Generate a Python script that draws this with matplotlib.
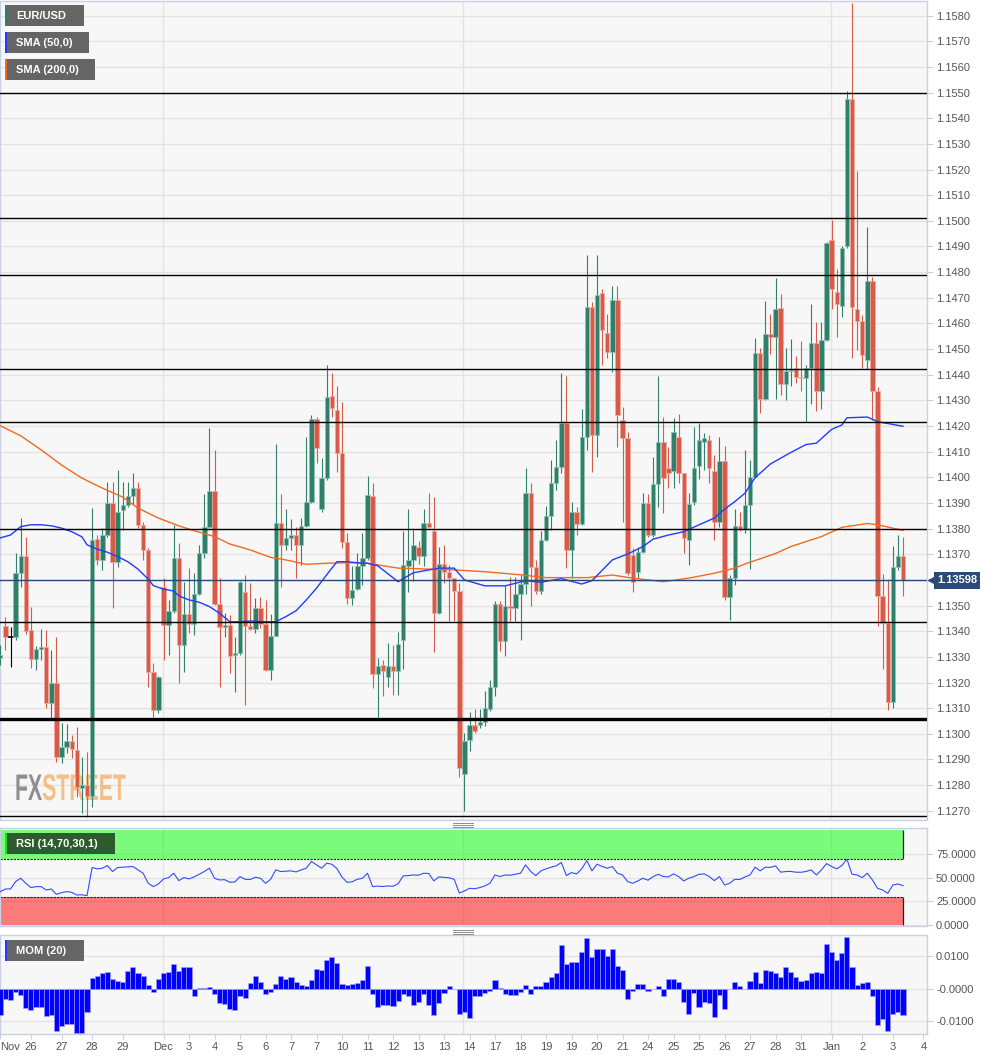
import numpy as np
import matplotlib
matplotlib.use("Agg")
import matplotlib.pyplot as plt
import matplotlib.transforms as mtransforms
from matplotlib.patches import Rectangle, PathPatch
from matplotlib.lines import Line2D
from matplotlib.textpath import TextPath
from matplotlib.font_manager import FontProperties

plt.rcParams['font.family'] = ['Liberation Sans', 'DejaVu Sans']

# ---------------- data (EUR/USD 4H) ----------------
opens = [1.13296, 1.13421, 1.13378, 1.13378, 1.13627, 1.13694, 1.13405, 1.13292, 1.13331, 1.13339,
         1.13120, 1.13198, 1.12910, 1.12949, 1.12972, 1.12937, 1.12789, 1.12801, 1.12758, 1.13760,
         1.13678, 1.13775, 1.13900, 1.13670, 1.13873, 1.13893, 1.13928, 1.13959, 1.13815, 1.13717,
         1.13241, 1.13093, 1.13573, 1.13425, 1.13479, 1.13686, 1.13347, 1.13468, 1.13429, 1.13545,
         1.13705, 1.13807, 1.13947, 1.13506, 1.13417, 1.13425, 1.13308, 1.13315, 1.13553, 1.13421,
         1.13409, 1.13491, 1.13429, 1.13249, 1.13382, 1.13822, 1.13737, 1.13764, 1.13775, 1.13737,
         1.13811, 1.13904, 1.14228, 1.13877, 1.13998, 1.14318, 1.14263, 1.14096, 1.13748, 1.13530,
         1.13565, 1.13655, 1.13686, 1.13928, 1.13233, 1.13268, 1.13222, 1.13265, 1.13245, 1.13366,
         1.13655, 1.13678, 1.13729, 1.13694, 1.13822, 1.13791, 1.13471, 1.13663, 1.13631, 1.13608,
         1.13557, 1.12843, 1.12976, 1.13035, 1.13035, 1.13046, 1.13097, 1.13183, 1.13506, 1.13362,
         1.13499, 1.13491, 1.13545, 1.13584, 1.13939, 1.13651, 1.13557, 1.13756, 1.13850, 1.13978,
         1.14041, 1.14212, 1.13717, 1.13865, 1.13818, 1.14158, 1.14665, 1.14165, 1.14719, 1.14563,
         1.14489, 1.14692, 1.14224, 1.14154, 1.13698, 1.13631, 1.13709, 1.13900, 1.13775, 1.13974,
         1.14138, 1.14037, 1.14025, 1.14158, 1.14017, 1.13756, 1.13904, 1.14045, 1.14138, 1.14146,
         1.14025, 1.13826, 1.14064, 1.13534, 1.13608, 1.13811, 1.13799, 1.13893, 1.14002, 1.14485,
         1.14306, 1.14559, 1.14548, 1.14661, 1.14364, 1.14415, 1.14427, 1.14392, 1.14388, 1.14427,
         1.14524, 1.14337, 1.14536, 1.14925, 1.14723, 1.14668, 1.14902, 1.15475, 1.14657, 1.14610,
         1.14458, 1.14766, 1.14337, 1.13537, 1.13432, 1.13124, 1.13651, 1.13694]

highs = [1.13346, 1.13456, 1.13417, 1.13705, 1.13842, 1.13768, 1.13495, 1.13343, 1.13409, 1.13405,
         1.13327, 1.13378, 1.13042, 1.13038, 1.12995, 1.13027, 1.12910, 1.12929, 1.13881, 1.13775,
         1.13803, 1.13982, 1.13982, 1.14029, 1.13982, 1.13982, 1.14017, 1.13982, 1.13826, 1.13725,
         1.13276, 1.13226, 1.13608, 1.13522, 1.13815, 1.13745, 1.13592, 1.13647, 1.13627, 1.13737,
         1.13936, 1.14193, 1.14107, 1.13608, 1.13471, 1.13464, 1.13378, 1.13596, 1.13620, 1.13588,
         1.13530, 1.13534, 1.13522, 1.13468, 1.14130, 1.13936, 1.13877, 1.13838, 1.13807, 1.13842,
         1.14158, 1.14244, 1.14236, 1.14076, 1.14439, 1.14407, 1.14357, 1.14294, 1.13784, 1.13655,
         1.13705, 1.13784, 1.14006, 1.13978, 1.13296, 1.13288, 1.13354, 1.13346, 1.13397, 1.13791,
         1.13877, 1.13795, 1.13752, 1.13877, 1.13939, 1.13924, 1.13729, 1.13737, 1.13659, 1.13608,
         1.13588, 1.13003, 1.13085, 1.13097, 1.13097, 1.13167, 1.13210, 1.13518, 1.13518, 1.13581,
         1.13612, 1.13612, 1.13620, 1.14037, 1.13978, 1.13678, 1.13791, 1.13889, 1.14068, 1.14146,
         1.14407, 1.14396, 1.13904, 1.13885, 1.14267, 1.14868, 1.14684, 1.14868, 1.14735, 1.14638,
         1.14746, 1.14746, 1.14275, 1.14177, 1.13725, 1.13729, 1.13939, 1.13936, 1.14080, 1.14396,
         1.14236, 1.14118, 1.14232, 1.14248, 1.14017, 1.13939, 1.14197, 1.14213, 1.14174, 1.14166,
         1.14088, 1.14158, 1.14123, 1.13620, 1.13877, 1.13865, 1.14107, 1.14068, 1.14543, 1.14505,
         1.14688, 1.14638, 1.14778, 1.14715, 1.14505, 1.14540, 1.14473, 1.14532, 1.14439, 1.14676,
         1.14606, 1.14606, 1.14918, 1.15003, 1.14813, 1.14902, 1.15506, 1.15851, 1.15194, 1.14634,
         1.14976, 1.14781, 1.14353, 1.13623, 1.13604, 1.13733, 1.13775, 1.13768]

lows = [1.13268, 1.13327, 1.13261, 1.13366, 1.13573, 1.13389, 1.13257, 1.13249, 1.13288, 1.13101,
        1.13062, 1.12890, 1.12886, 1.12925, 1.12906, 1.12754, 1.12691, 1.12675, 1.12715, 1.13659,
        1.13639, 1.13768, 1.13491, 1.13651, 1.13795, 1.13885, 1.13893, 1.13803, 1.13678, 1.13183,
        1.13066, 1.13081, 1.13288, 1.13307, 1.13471, 1.13198, 1.13241, 1.13393, 1.13386, 1.13541,
        1.13686, 1.13803, 1.13503, 1.13183, 1.13378, 1.13237, 1.13163, 1.13308, 1.13113, 1.13405,
        1.13393, 1.13413, 1.13245, 1.13210, 1.13382, 1.13573, 1.13717, 1.13717, 1.13608, 1.13659,
        1.13807, 1.13900, 1.14056, 1.13865, 1.13990, 1.14236, 1.14021, 1.13725, 1.13507, 1.13503,
        1.13561, 1.13581, 1.13678, 1.13179, 1.13066, 1.13148, 1.13183, 1.13152, 1.13152, 1.13253,
        1.13553, 1.13596, 1.13663, 1.13655, 1.13803, 1.13319, 1.13468, 1.13588, 1.13440, 1.13440,
        1.12832, 1.12699, 1.12933, 1.13003, 1.13023, 1.13031, 1.13089, 1.13148, 1.13323, 1.13304,
        1.13440, 1.13440, 1.13366, 1.13545, 1.13499, 1.13545, 1.13545, 1.13752, 1.13795, 1.13951,
        1.14017, 1.13647, 1.13608, 1.13775, 1.13815, 1.14107, 1.14021, 1.14080, 1.14439, 1.14466,
        1.14411, 1.14118, 1.13826, 1.13620, 1.13553, 1.13608, 1.13705, 1.13768, 1.13768, 1.13885,
        1.13862, 1.13959, 1.13959, 1.13978, 1.13705, 1.13659, 1.13893, 1.13994, 1.14029, 1.13978,
        1.13756, 1.13807, 1.13522, 1.13444, 1.13581, 1.13791, 1.13783, 1.13643, 1.13998, 1.14251,
        1.14302, 1.14481, 1.14306, 1.14321, 1.14302, 1.14357, 1.14368, 1.14337, 1.14216, 1.14286,
        1.14259, 1.14267, 1.14532, 1.14657, 1.14548, 1.14625, 1.14894, 1.14465, 1.14497, 1.14427,
        1.14423, 1.14224, 1.13421, 1.13253, 1.13093, 1.13101, 1.13639, 1.13537]

closes = [1.13307, 1.13378, 1.13378, 1.13627, 1.13694, 1.13401, 1.13292, 1.13331, 1.13339, 1.13120,
          1.13198, 1.12910, 1.12949, 1.12972, 1.12941, 1.12793, 1.12801, 1.12758, 1.13756, 1.13678,
          1.13775, 1.13900, 1.13670, 1.13865, 1.13893, 1.13928, 1.13959, 1.13815, 1.13717, 1.13241,
          1.13093, 1.13222, 1.13425, 1.13479, 1.13686, 1.13347, 1.13468, 1.13429, 1.13545, 1.13705,
          1.13807, 1.13947, 1.13506, 1.13417, 1.13425, 1.13304, 1.13315, 1.13592, 1.13421, 1.13409,
          1.13491, 1.13429, 1.13249, 1.13382, 1.13822, 1.13737, 1.13764, 1.13775, 1.13737, 1.13811,
          1.13904, 1.14228, 1.14115, 1.13998, 1.14314, 1.14271, 1.14096, 1.13748, 1.13530, 1.13561,
          1.13655, 1.13686, 1.13932, 1.13233, 1.13265, 1.13245, 1.13265, 1.13245, 1.13350, 1.13659,
          1.13678, 1.13737, 1.13694, 1.13822, 1.13807, 1.13471, 1.13663, 1.13631, 1.13608, 1.13557,
          1.12867, 1.12972, 1.13035, 1.13011, 1.13046, 1.13101, 1.13183, 1.13506, 1.13362, 1.13499,
          1.13491, 1.13545, 1.13584, 1.13939, 1.13651, 1.13557, 1.13756, 1.13850, 1.13978, 1.14041,
          1.14212, 1.13717, 1.13865, 1.13818, 1.14158, 1.14665, 1.14165, 1.14712, 1.14575, 1.14489,
          1.14692, 1.14244, 1.14154, 1.13627, 1.13592, 1.13709, 1.13900, 1.13775, 1.13974, 1.14138,
          1.13998, 1.14017, 1.14177, 1.14017, 1.13764, 1.13896, 1.14037, 1.14146, 1.14154, 1.14037,
          1.13826, 1.14064, 1.13534, 1.13608, 1.13811, 1.13799, 1.13893, 1.14002, 1.14485, 1.14306,
          1.14559, 1.14548, 1.14657, 1.14364, 1.14415, 1.14419, 1.14392, 1.14388, 1.14427, 1.14524,
          1.14337, 1.14536, 1.14914, 1.14735, 1.14676, 1.14894, 1.15475, 1.14664, 1.14610, 1.14477,
          1.14766, 1.14337, 1.13537, 1.13432, 1.13124, 1.13651, 1.13694, 1.13598]

sma50_idx = [0, 2, 4, 6, 8, 10, 12, 14, 16, 17, 19, 21, 23, 25, 27, 29, 30, 32, 34, 35,
             37, 39, 41, 43, 45, 47, 49, 52, 54, 56, 58, 60, 62, 64, 66, 68, 70, 72, 74, 78,
             81, 86, 89, 91, 95, 99, 103, 106, 110, 114, 116, 120, 123, 126, 128, 131, 134, 137, 140, 142,
             144, 146, 148, 151, 155, 158, 160, 163, 165, 166, 170, 172, 177]
sma50 = [1.13764, 1.13775, 1.13808, 1.13815, 1.13815, 1.13811, 1.13802, 1.13788, 1.13768, 1.13737,
         1.13720, 1.13708, 1.13691, 1.13671, 1.13642, 1.13603, 1.13578, 1.13564, 1.13557, 1.13538,
         1.13522, 1.13513, 1.13496, 1.13470, 1.13437, 1.13437, 1.13440, 1.13437, 1.13437, 1.13457,
         1.13480, 1.13522, 1.13568, 1.13620, 1.13671, 1.13671, 1.13667, 1.13665, 1.13655, 1.13593,
         1.13628, 1.13646, 1.13646, 1.13600, 1.13577, 1.13577, 1.13597, 1.13591, 1.13605, 1.13584,
         1.13597, 1.13678, 1.13701, 1.13730, 1.13759, 1.13775, 1.13788, 1.13815, 1.13841, 1.13876,
         1.13905, 1.13938, 1.13999, 1.14052, 1.14097, 1.14128, 1.14133, 1.14187, 1.14204, 1.14232,
         1.14235, 1.14217, 1.14199]

sma200_idx = [0, 4, 8, 12, 16, 20, 24, 27, 31, 35, 37, 42, 45, 49, 53, 56, 60, 64, 68, 72,
              78, 89, 95, 102, 107, 115, 120, 124, 130, 135, 140, 144, 146, 152, 155, 161, 165, 170, 172, 177]
sma200 = [1.14201, 1.14162, 1.14107, 1.14048, 1.13997, 1.13958, 1.13923, 1.13880, 1.13841, 1.13811,
          1.13798, 1.13769, 1.13740, 1.13717, 1.13688, 1.13678, 1.13661, 1.13665, 1.13667, 1.13665,
          1.13646, 1.13639, 1.13632, 1.13620, 1.13609, 1.13609, 1.13619, 1.13607, 1.13593, 1.13607,
          1.13626, 1.13646, 1.13662, 1.13703, 1.13730, 1.13769, 1.13805, 1.13820, 1.13815, 1.13793]

rsi = [35.2, 38.0, 38.0, 45.8, 49.3, 44.0, 39.4, 40.5, 40.5, 36.9,
       38.0, 32.3, 34.1, 35.2, 34.5, 31.6, 31.9, 30.9, 60.6, 59.2,
       59.9, 62.7, 56.4, 60.6, 61.0, 61.3, 61.7, 58.1, 54.6, 44.0,
       40.5, 43.3, 48.6, 50.0, 54.6, 46.8, 50.0, 48.6, 50.7, 53.5,
       56.4, 59.9, 49.3, 47.5, 47.8, 45.1, 45.4, 51.1, 48.2, 48.0,
       50.4, 49.3, 44.0, 48.2, 58.1, 56.4, 56.7, 57.1, 56.0, 58.1,
       59.9, 67.0, 63.4, 59.9, 65.2, 64.1, 59.5, 50.5, 45.0, 45.6,
       48.2, 49.3, 54.6, 40.5, 41.0, 40.6, 41.2, 40.8, 43.5, 51.8,
       52.1, 52.8, 52.5, 54.6, 54.3, 46.5, 50.7, 50.2, 49.8, 48.2,
       33.7, 35.9, 38.7, 38.3, 39.4, 41.2, 44.0, 52.8, 51.1, 52.8,
       52.5, 53.5, 54.6, 63.4, 56.4, 52.1, 57.1, 59.2, 61.0, 62.4,
       65.9, 52.1, 55.3, 53.9, 59.2, 68.0, 57.1, 64.1, 61.7, 59.9,
       61.7, 54.6, 52.8, 45.8, 44.0, 46.5, 49.3, 47.2, 51.1, 53.5,
       51.1, 50.8, 53.9, 51.1, 46.5, 49.3, 51.1, 53.5, 53.9, 51.1,
       46.8, 51.1, 42.2, 44.0, 48.2, 48.0, 50.7, 52.8, 61.0, 57.1,
       61.0, 60.7, 62.4, 55.7, 56.4, 56.5, 55.7, 55.6, 56.5, 58.1,
       52.8, 58.1, 64.8, 61.7, 59.2, 62.7, 69.4, 53.5, 52.8, 50.0,
       54.6, 47.5, 38.7, 36.9, 33.4, 42.2, 43.3, 41.5]

mom = [-0.0079, -0.0032, -0.0035, -0.0009, -0.0019, -0.0060, -0.0065, -0.0055, -0.0055, -0.0083,
       -0.0081, -0.0130, -0.0113, -0.0109, -0.0109, -0.0135, -0.0134, -0.0072, 0.0032, 0.0038,
       0.00468, 0.00522, 0.00292, 0.00238, 0.00199, 0.00527, 0.00667, 0.00484, 0.00378, 0.00121,
       -0.00105, 0.00312, 0.00476, 0.00507, 0.00745, 0.00554, 0.00667, 0.00671, -0.00211, 0.00027,
       0.00032, 0.00047, -0.00164, -0.00448, -0.00468, -0.00624, -0.00644, -0.00223, -0.00296, 0.00168,
       0.00398, 0.00207, -0.00176, -0.00097, 0.00136, 0.00390, 0.00296, 0.00346, 0.00192, 0.00106,
       0.00097, 0.00281, 0.00609, 0.00581, 0.00889, 0.00967, 0.00781, 0.00156, 0.00109, 0.00152,
       0.00164, 0.00257, 0.00683, -0.00149, -0.00557, -0.00492, -0.00499, -0.00530, -0.00387, -0.00152,
       -0.00226, -0.00491, -0.00421, -0.00176, -0.00507, -0.00800, -0.00433, -0.00117, 0.00078, -0.00004,
       -0.00788, -0.00714, -0.00897, -0.00222, -0.00219, -0.00144, -0.00082, 0.00261, 0.00012, -0.00160,
       -0.00187, -0.00192, -0.00110, 0.00117, -0.00156, 0.00086, 0.00093, 0.00219, 0.00370, 0.00484,
       0.01345, 0.00745, 0.00830, 0.00807, 0.01112, 0.01564, 0.00982, 0.01206, 0.01213, 0.00990,
       0.01201, 0.00699, 0.00570, -0.00312, -0.00059, 0.00152, 0.00144, -0.00075, -0.00004, 0.00097,
       -0.00214, 0.00300, 0.00312, 0.00199, -0.00394, -0.00769, -0.00128, -0.00566, -0.00421, -0.00452,
       -0.00866, -0.00180, -0.00620, -0.00019, 0.00219, 0.00090, -0.00007, 0.00227, 0.00511, 0.00168,
       0.00561, 0.00531, 0.00480, 0.00347, 0.00651, 0.00523, 0.00355, 0.00242, 0.00273, 0.00487,
       0.00511, 0.00472, 0.01380, 0.01127, 0.00865, 0.01095, 0.01582, 0.00662, 0.00125, 0.00171,
       0.00207, -0.00211, -0.01120, -0.00932, -0.01291, -0.00768, -0.00698, -0.00790]

level_lines = [1.1550, 1.1501, 1.14788, 1.14422, 1.14215, 1.13799, 1.13435, 1.12680]
thick_level = 1.13057

tick_pos = [-0.06, 6, 12, 18, 24, 32, 37, 42, 47, 52, 57, 62, 67, 72, 77, 82, 87, 92, 97,
            102, 107, 112, 117, 122, 127, 132, 137, 142, 147, 152, 157, 163, 169, 175, 181]
tick_labels = ['Nov', '26', '27', '28', '29', 'Dec', '3', '4', '5', '6', '7', '7', '10', '11', '12',
               '13', '13', '14', '17', '18', '19', '19', '20', '21', '24', '25', '25', '26', '27',
               '28', '31', 'Jan', '2', '3', '4']
period_grid = [31.9, 90.7, 162.9]

# ---------------- style ----------------
UP, DN = '#2f7f6b', '#d85a49'
UP_EDGE, DN_EDGE = '#8fc3b5', '#efaa9f'
BG = '#f7f7f7'
SPINE = '#c9d0e2'
GRID = '#e3e3e3'
TXT = '#555555'
NAVY = '#2b4a75'

W, H = 998, 1060
fig = plt.figure(figsize=(W / 100, H / 100), dpi=100)
fig.patch.set_facecolor('white')


def fxp(px):
    return px / W


def fyp(py):
    return 1 - py / H


PLOT_R = 927
main_top, main_bot = 1, 819.5
rsi_top, rsi_bot = 828, 926
mom_top, mom_bot = 935, 1034

ax = fig.add_axes([0, fyp(main_bot), fxp(PLOT_R), (main_bot - main_top) / H])
ax_rsi = fig.add_axes([0, fyp(rsi_bot), fxp(PLOT_R), (rsi_bot - rsi_top) / H])
ax_mom = fig.add_axes([0, fyp(mom_bot), fxp(PLOT_R), (mom_bot - mom_top) / H])

xlim = (-0.06, 181.7)
for a in (ax, ax_rsi, ax_mom):
    a.set_facecolor(BG)
    a.set_xlim(*xlim)
    for s in a.spines.values():
        s.set_color(SPINE)
        s.set_linewidth(1)
    a.yaxis.tick_right()
    a.tick_params(axis='y', direction='out', length=4.3, width=0.8, color=SPINE,
                  labelcolor=TXT, labelsize=8, pad=2.2, left=False, right=True)
    a.tick_params(axis='x', bottom=False, labelbottom=False)
    a.grid(axis='y', color=GRID, lw=1)
    for g in period_grid:
        a.axvline(g, color=GRID, lw=1, zorder=0.6)
    a.set_axisbelow(True)

# ---------------- main price panel ----------------
o = np.array(opens)
h = np.array(highs)
l = np.array(lows)
c = np.array(closes)
x = np.arange(len(c))
last = closes[-1]

ax.set_ylim(1.12666, 1.15857)
yt = np.round(np.arange(1.1270, 1.15805, 0.001), 4)
ax.set_yticks(yt)
# the label hidden behind the current-price box is left blank, as in the original
ax.set_yticklabels(['' if abs(v - last) < 0.0005 else f'{v:.4f}' for v in yt])

colors = np.where(c > o, UP, np.where(c < o, DN, 'black'))
edges = np.where(c > o, UP_EDGE, np.where(c < o, DN_EDGE, 'black'))
ax.vlines(x, np.minimum(l, np.minimum(o, c)), np.maximum(h, np.maximum(o, c)),
          colors=colors, lw=0.8, zorder=3)
body_h = np.maximum(np.abs(c - o), 0.00003)
ax.bar(x, body_h, bottom=np.minimum(o, c), width=0.86, color=colors,
       edgecolor=edges, linewidth=0.5, zorder=4)

ax.plot(sma200_idx, sma200, color='#f26a1b', lw=1.0, zorder=5)
ax.plot(sma50_idx, sma50, color='#1f3dff', lw=1.0, zorder=5)

for lv in level_lines:
    ax.axhline(lv, color='black', lw=1.0, zorder=6)
ax.axhline(thick_level, color='black', lw=2.4, zorder=6)

ax.axhline(last, color=NAVY, lw=1.0, zorder=6)
blend = mtransforms.blended_transform_factory(fig.transFigure, ax.transData)
ax.plot([fxp(932.5)], [last], marker='<', ms=6.5, color=NAVY, transform=blend,
        clip_on=False, zorder=10)
ax.text(fxp(957), last, f'{last:.5f}', transform=blend, ha='center', va='center',
        color='white', fontsize=8, fontweight='bold', clip_on=False, zorder=11,
        bbox=dict(boxstyle='square,pad=0.28', fc=NAVY, ec='none'))

# watermark
fp = FontProperties(family=['Liberation Sans Narrow', 'Liberation Sans'], weight='bold')
tp_fx = TextPath((0, 0), 'FX', size=37, prop=fp)
tp_st = TextPath((0, 0), 'STREET', size=37, prop=fp)
w_fx = tp_fx.get_extents().width
w_st = tp_st.get_extents().width
sx = 110.0 / (w_fx + w_st + 3)
base_y = H - 800
t_fx = mtransforms.Affine2D().scale(sx, 1.0).translate(15, base_y)
t_st = mtransforms.Affine2D().scale(sx, 1.0).translate(15 + sx * (w_fx + 3), base_y)
p1 = PathPatch(tp_fx, fc='#8e8e8e', ec='none', zorder=1)
p1.set_transform(t_fx)
p2 = PathPatch(tp_st, fc='#f2bf86', ec='none', zorder=1)
p2.set_transform(t_st)
ax.add_artist(p1)
ax.add_artist(p2)

# ---------------- RSI panel ----------------
ax_rsi.set_ylim(-1.05, 102.3)
ax_rsi.set_yticks([0, 25, 50, 75])
ax_rsi.set_yticklabels([f'{v:.4f}' for v in [0, 25, 50, 75]])
band_end = len(rsi) - 1 - 0.05
ax_rsi.fill_between([xlim[0], band_end], 70, 100, color='#00ff00', alpha=0.5, lw=0, zorder=1)
ax_rsi.fill_between([xlim[0], band_end], 0, 30, color='#ff0000', alpha=0.5, lw=0, zorder=1)
ax_rsi.hlines([70, 30], xlim[0], band_end, colors='#222222', linestyles=(0, (2, 1)), lw=0.8, zorder=2)
ax_rsi.vlines([band_end, band_end], [70, 0], [100, 30], colors='#222222', lw=0.9, zorder=2)
ax_rsi.plot(x, rsi, color='#2f4dff', lw=0.8, zorder=3)

# ---------------- MOM panel ----------------
ax_mom.set_ylim(-0.01385, 0.01643)
ax_mom.set_yticks([-0.01, 0, 0.01])
ax_mom.set_yticklabels(['-0.0100', '-0.0000', '0.0100'])
ax_mom.bar(x, mom, width=1.0, color='#0000ff', edgecolor='#a4a4ff', linewidth=0.4, zorder=3)
ax_mom.set_xticks(tick_pos)
ax_mom.set_xticklabels(tick_labels)
ax_mom.tick_params(axis='x', bottom=True, labelbottom=True, direction='out', length=3.5,
                   width=0.8, color=SPINE, labelcolor=TXT, labelsize=8, pad=2.5)
ax_mom.get_xticklabels()[0].set_horizontalalignment('left')

# ---------------- label boxes ----------------
def label_box(x0, y0, w, hgt, text, fc, stripe):
    fig.add_artist(Rectangle((fxp(x0), fyp(y0 + hgt)), fxp(w), hgt / H,
                             transform=fig.transFigure, fc=fc, ec='none', zorder=20))
    fig.add_artist(Rectangle((fxp(x0), fyp(y0 + hgt)), fxp(2), hgt / H,
                             transform=fig.transFigure, fc=stripe, ec='none', zorder=21))
    fig.text(fxp(x0 + 11), fyp(y0 + hgt / 2 + 0.5), text, color='white', fontsize=8,
             fontweight='bold', va='center', ha='left', zorder=22)


label_box(5, 5, 79, 21, 'EUR/USD', '#656565', '#2f7f6b')
label_box(5, 32, 84, 21, 'SMA (50,0)', '#656565', '#1f3dff')
label_box(5, 59, 90, 21, 'SMA (200,0)', '#656565', '#f26a1b')
label_box(5, 833, 110, 21, 'RSI (14,70,30,1)', '#2e5b2e', '#1fe01f')
label_box(5, 940, 79, 21, 'MOM (20)', '#656565', '#1f3dff')

# panel grips
for yy in (822.5, 824.5, 826.5, 929.5, 931.5, 933.5):
    fig.add_artist(Line2D([fxp(453), fxp(473)], [fyp(yy), fyp(yy)], transform=fig.transFigure,
                          color='#8a8a8a', lw=0.7, zorder=20))

fig.savefig('out.png', dpi=100, facecolor='white')
